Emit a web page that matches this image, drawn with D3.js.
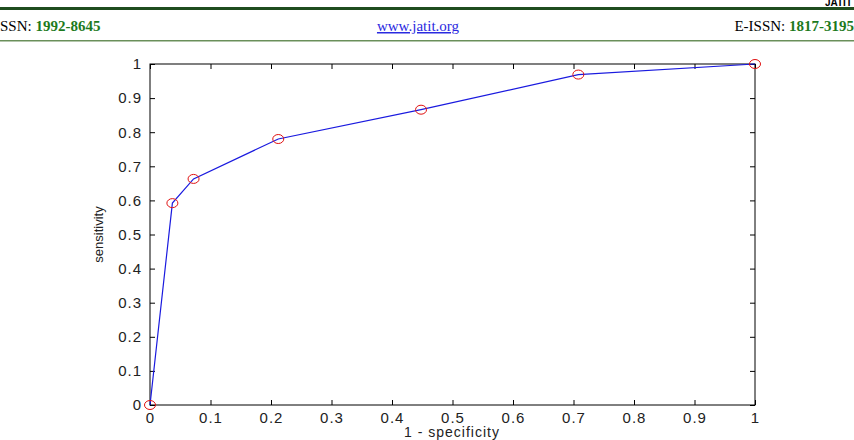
<!DOCTYPE html>
<html>
<head>
<meta charset="utf-8">
<script src="https://cdn.jsdelivr.net/npm/d3@7"></script>
<style>
body { margin: 0; background: #fff; }
</style>
</head>
<body>
<svg id="chart" width="854" height="440"></svg>
<script>
// ROC curve values
var fpr = [0, 0.037, 0.072, 0.212, 0.448, 0.708, 1];
var tpr = [0, 0.592, 0.663, 0.780, 0.866, 0.969, 1];
var xTicks = [0, 0.1, 0.2, 0.3, 0.4, 0.5, 0.6, 0.7, 0.8, 0.9, 1];
var yTicks = [0, 0.1, 0.2, 0.3, 0.4, 0.5, 0.6, 0.7, 0.8, 0.9, 1];

var width = 854, height = 440;
var plotLeft = 150, plotRight = 755, plotTop = 64, plotBottom = 405;

var svg = d3.select("#chart");

// page header of the journal
svg.append("rect").attr("x", 0).attr("y", 7).attr("width", width).attr("height", 3).style("fill", "#1f4d1f");
svg.append("rect").attr("x", 0).attr("y", 40).attr("width", width).attr("height", 1.5).style("fill", "#6a8f5a");

svg.append("text").attr("x", 0).attr("y", 31)
    .style("font-family", "Liberation Serif").style("font-size", "15px")
    .call(function(t){
        t.append("tspan").text("SSN: ");
        t.append("tspan").style("font-weight", "bold").style("fill", "#1d7a1d").text("1992-8645");
    });

svg.append("text").attr("x", 418).attr("y", 31).attr("text-anchor", "middle")
    .style("font-family", "Liberation Serif").style("font-size", "15px")
    .style("fill", "#2a2ae0").style("text-decoration", "underline")
    .text("www.jatit.org");

svg.append("text").attr("x", 854).attr("y", 31).attr("text-anchor", "end")
    .style("font-family", "Liberation Serif").style("font-size", "15px")
    .call(function(t){
        t.append("tspan").text("E-ISSN: ");
        t.append("tspan").style("font-weight", "bold").style("fill", "#1d7a1d").text("1817-3195");
    });

svg.append("text").attr("x", 852).attr("y", 6).attr("text-anchor", "end")
    .style("font-family", "Liberation Sans").style("font-size", "10px").style("font-weight", "bold")
    .text("JATIT");

// scales
var x = d3.scaleLinear().domain([0, 1]).range([plotLeft, plotRight]);
var y = d3.scaleLinear().domain([0, 1]).range([plotBottom, plotTop]);

var g = svg.append("g");

g.append("rect")
    .attr("x", plotLeft).attr("y", plotTop)
    .attr("width", plotRight - plotLeft).attr("height", plotBottom - plotTop)
    .style("fill", "#fff").style("stroke", "#000").style("stroke-width", 1);

function styleAxis(a) {
    a.select(".domain").remove();
    a.selectAll("text")
        .style("font-family", "Liberation Sans")
        .style("font-size", "15px")
        .style("letter-spacing", "1px")
        .style("fill", "#222");
}

g.append("g").attr("transform", "translate(0," + plotBottom + ")")
    .call(d3.axisBottom(x).tickValues(xTicks).tickSizeInner(-5).tickSizeOuter(0).tickPadding(7).tickFormat(d3.format("")))
    .call(styleAxis);
g.append("g").attr("transform", "translate(0," + plotTop + ")")
    .call(d3.axisTop(x).tickValues(xTicks).tickSizeInner(-5).tickSizeOuter(0).tickFormat(""))
    .call(styleAxis);
g.append("g").attr("transform", "translate(" + plotLeft + ",0)")
    .call(d3.axisLeft(y).tickValues(yTicks).tickSizeInner(-5).tickSizeOuter(0).tickPadding(8).tickFormat(d3.format("")))
    .call(styleAxis);
g.append("g").attr("transform", "translate(" + plotRight + ",0)")
    .call(d3.axisRight(y).tickValues(yTicks).tickSizeInner(-5).tickSizeOuter(0).tickFormat(""))
    .call(styleAxis);

var pts = fpr.map(function(d, i){ return [d, tpr[i]]; });

g.append("path")
    .datum(pts)
    .attr("d", d3.line().x(function(d){ return x(d[0]); }).y(function(d){ return y(d[1]); }))
    .style("fill", "none").style("stroke", "#1a1adf").style("stroke-width", 1.2);

g.selectAll(".mark").data(pts).enter().append("ellipse")
    .attr("cx", function(d){ return x(d[0]); })
    .attr("cy", function(d){ return y(d[1]); })
    .attr("rx", 5.5).attr("ry", 4.5)
    .style("fill", "none").style("stroke", "#e01010").style("stroke-width", 1);

// axis labels
svg.append("text").attr("x", 452).attr("y", 437).attr("text-anchor", "middle")
    .style("font-family", "Liberation Sans").style("font-size", "14px")
    .style("letter-spacing", "1px").style("fill", "#222")
    .text("1 - specificity");

svg.append("text").attr("transform", "translate(103," + ((plotTop + plotBottom) / 2) + ") rotate(-90)")
    .attr("text-anchor", "middle")
    .style("font-family", "Liberation Sans").style("font-size", "13px").style("fill", "#222")
    .text("sensitivity");
</script>
</body>
</html>
